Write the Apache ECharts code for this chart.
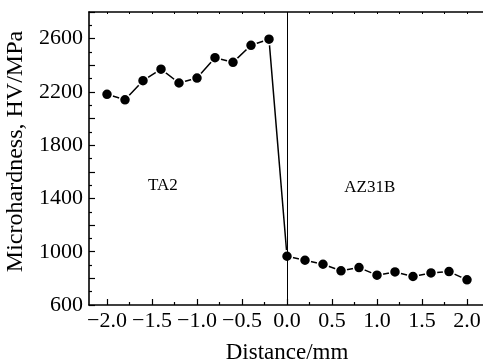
<!DOCTYPE html>
<html><head><meta charset="utf-8">
<script src="https://cdn.jsdelivr.net/npm/echarts@6/dist/echarts.min.js"></script>
<style>html,body{margin:0;padding:0;background:#fff}#c{width:483px;height:363px}</style>
</head><body><div id="c"></div>
<script>
const distance = [-2.0,-1.8,-1.6,-1.4,-1.2,-1.0,-0.8,-0.6,-0.4,-0.2,0.0,0.2,0.4,0.6,0.8,1.0,1.2,1.4,1.6,1.8,2.0];
const hardness = [2182,2141,2284,2371,2267,2304,2457,2422,2550,2596,966,936,906,857,881,824,848,814,841,851,789];
const xLabelValues = [-2.0,-1.5,-1.0,-0.5,0.0,0.5,1.0,1.5,2.0];
const xMinorValues = [-1.75,-1.25,-0.75,-0.25,0.25,0.75,1.25,1.75];
const xTopValues = [-2.0,-1.75,-1.5,-1.25,-1.0,-0.75,-0.5,-0.25,0,0.25,0.5,0.75,1.0,1.25,1.5,1.75,2.0];
const yLabelValues = [600,1000,1400,1800,2200,2600];
const yMajorTicks = [600,800,1000,1200,1400,1600,1800,2000,2200,2400,2600,2800];
const yMinorTicks = [700,900,1100,1300,1500,1700,1900,2100,2300,2500,2700];
const regionLabels = [{name:'TA2', x:-1.38, y:1500},{name:'AZ31B', x:0.92, y:1480}];

const FONT = '"Liberation Serif","Times New Roman",serif';
const chart = echarts.init(document.getElementById('c'));
const fmtX = v => (v < 0 ? '\u2212' : '') + Math.abs(v).toFixed(1);
const fmtY = v => String(v);
const points = distance.map((d,i)=>[d,hardness[i]]);
const axLine = {show:true, onZero:false, lineStyle:{color:'#000', width:1.6}};
const noLine = {show:false, onZero:false};
chart.setOption({
  animation:false,
  grid:{left:89, top:12, width:396, bottom:58, outerBoundsMode:'none', containLabel:false},
  xAxis:[
    {type:'value', min:-2.2, max:2.2, position:'bottom',
     axisLine:axLine,
     axisTick:{show:true, inside:true, length:6, customValues:xLabelValues, lineStyle:{color:'#000',width:1.2}},
     axisLabel:{show:true, customValues:xLabelValues, formatter:fmtX, color:'#000', fontFamily:FONT, fontSize:22, margin:5},
     splitLine:{show:false},
     name:'Distance/mm', nameLocation:'middle', nameGap:36,
     nameTextStyle:{color:'#000', fontFamily:FONT, fontSize:23}},
    {type:'value', min:-2.2, max:2.2, position:'bottom',
     axisLine:noLine,
     axisTick:{show:true, inside:true, length:3, customValues:xMinorValues, lineStyle:{color:'#000',width:1.2}},
     axisLabel:{show:false}, splitLine:{show:false}},
    {type:'value', min:-2.2, max:2.2, position:'top',
     axisLine:axLine,
     axisTick:{show:true, inside:true, length:2, customValues:xTopValues, lineStyle:{color:'#000',width:1}},
     axisLabel:{show:false}, splitLine:{show:false}}
  ],
  yAxis:[
    {type:'value', min:600, max:2800, position:'left',
     axisLine:axLine,
     axisTick:{show:true, inside:true, length:6, customValues:yMajorTicks, lineStyle:{color:'#000',width:1.2}},
     axisLabel:{show:true, customValues:yLabelValues, formatter:fmtY, color:'#000', fontFamily:FONT, fontSize:22, margin:6},
     splitLine:{show:false},
     name:'Microhardness, HV/MPa', nameLocation:'middle', nameGap:55,
     nameTextStyle:{color:'#000', fontFamily:FONT, fontSize:24, padding:[0,0,0,14]}},
    {type:'value', min:600, max:2800, position:'left',
     axisLine:noLine,
     axisTick:{show:true, inside:true, length:3, customValues:yMinorTicks, lineStyle:{color:'#000',width:1.2}},
     axisLabel:{show:false}, splitLine:{show:false}}
  ],
  series:[{
    type:'line', data:points, xAxisIndex:0, yAxisIndex:0,
    symbol:'circle', symbolSize:11,
    lineStyle:{color:'#000', width:1.5},
    itemStyle:{color:'#000', borderColor:'#fff', borderWidth:1.5},
    markLine:{silent:true, symbol:'none', label:{show:false},
      lineStyle:{color:'#000', width:1, type:'solid'},
      data:[{xAxis:0}]},
    markPoint:{silent:true, symbol:'circle', symbolSize:0,
      label:{show:true, formatter:'{b}', color:'#000', fontFamily:FONT, fontSize:17},
      data:regionLabels.map(r=>({name:r.name, coord:[r.x, r.y]}))}
  }]
});
</script></body></html>
